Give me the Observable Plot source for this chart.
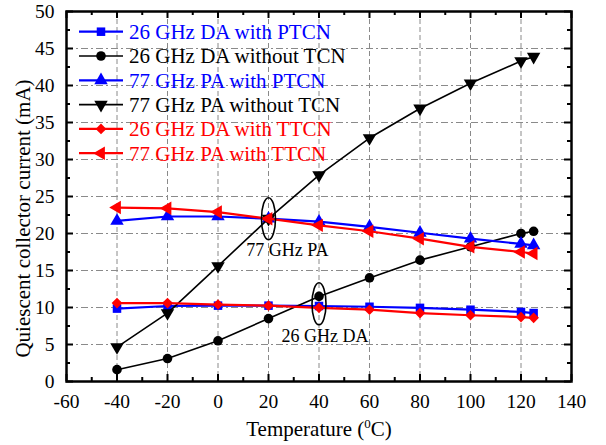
<!DOCTYPE html>
<html><head><meta charset="utf-8">
<script src="https://cdn.jsdelivr.net/npm/d3@7"></script>
<script src="https://cdn.jsdelivr.net/npm/@observablehq/plot@0.6"></script>
<style>body{margin:0;background:#fff} #chart{position:relative;width:606px;height:445px}</style>
</head><body><div id="chart"></div>
<script>
const temperatures = [-40, -20, 0, 20, 40, 60, 80, 100, 120, 125];
const da26WithPTCN   = [9.85, 10.2, 10.25, 10.25, 10.2, 10.1, 9.95, 9.7, 9.4, 9.25];
const da26WithoutTCN = [1.6, 3.1, 5.5, 8.5, 11.5, 14.0, 16.4, 18.2, 20.0, 20.3];
const pa77WithPTCN   = [21.7, 22.3, 22.3, 22.0, 21.6, 20.9, 20.1, 19.3, 18.6, 18.4];
const pa77WithoutTCN = [4.65, 9.25, 15.6, 22.0, 27.9, 32.9, 36.9, 40.3, 43.3, 43.9];
const da26WithTTCN   = [10.6, 10.6, 10.4, 10.25, 9.95, 9.7, 9.25, 8.95, 8.7, 8.6];
const pa77WithTTCN   = [23.5, 23.4, 22.9, 22.0, 21.1, 20.3, 19.3, 18.2, 17.5, 17.3];

const seriesNames = ["26 GHz DA with PTCN", "26 GHz DA without TCN", "77 GHz PA with PTCN",
                     "77 GHz PA without TCN", "26 GHz DA with TTCN", "77 GHz PA with TTCN"];
const seriesValues = [da26WithPTCN, da26WithoutTCN, pa77WithPTCN, pa77WithoutTCN, da26WithTTCN, pa77WithTTCN];
const seriesColors = ["#0000ff", "#000000", "#0000ff", "#000000", "#ff0000", "#ff0000"];
const seriesSymbols = ["square", "circle", "triangle", "triangle", "diamond2", "triangle"];
const seriesRotate = [0, 0, 0, 180, 0, -90];

const xMajorTicks = [-60, -40, -20, 0, 20, 40, 60, 80, 100, 120, 140];
const xMinorTicks = [-50, -30, -10, 10, 30, 50, 70, 90, 110, 130];
const yMajorTicks = [0, 5, 10, 15, 20, 25, 30, 35, 40, 45, 50];
const yMinorTicks = [2.5, 7.5, 12.5, 17.5, 22.5, 27.5, 32.5, 37.5, 42.5, 47.5];

const annotationLabels = ["77 GHz PA", "26 GHz DA"];
const ellipseX = [20, 40];
const ellipseY = [22.0, 10.5];
const labelX = [27.5, 42.4];
const labelY = [17.7, 6.1];

const xTitle = "Temperature (0C)";
const yTitle = "Quiescent collector current (mA)";

const table = [];
seriesNames.forEach((name, s) => {
  temperatures.forEach((t, i) => table.push({series: name, s, t, v: seriesValues[s][i]}));
});

function ellipseSymbol(rx, ry) {
  const k = 0.5523;
  return {draw(ctx) {
    ctx.moveTo(rx, 0);
    ctx.bezierCurveTo(rx, ry * k, rx * k, ry, 0, ry);
    ctx.bezierCurveTo(-rx * k, ry, -rx, ry * k, -rx, 0);
    ctx.bezierCurveTo(-rx, -ry * k, -rx * k, -ry, 0, -ry);
    ctx.bezierCurveTo(rx * k, -ry, rx, -ry * k, rx, 0);
    ctx.closePath();
  }};
}

const W = 606, H = 445, mL = 66, mR = 35, mT = 11, mB = 64;
const innerH = H - mT - mB;
const innerW = W - mL - mR;
const font = "'Liberation Serif', 'Times New Roman', serif";

const seriesMarks = [];
seriesNames.forEach((name, s) => {
  const rows = table.filter(d => d.s === s);
  const black = seriesColors[s] === "#000000";
  seriesMarks.push(Plot.line(rows, {x: "t", y: "v", stroke: seriesColors[s], strokeWidth: black ? 1.6 : 2.2}));
  seriesMarks.push(Plot.dot(rows, {x: "t", y: "v", symbol: seriesSymbols[s], fill: seriesColors[s],
    r: seriesSymbols[s] === "triangle" ? 5 : 4.8, rotate: seriesRotate[s]}));
});

const idx = annotationLabels.map((_, i) => i);

const chart = Plot.plot({
  width: W, height: H,
  marginLeft: mL, marginRight: mR, marginTop: mT, marginBottom: mB,
  style: {fontFamily: font, fontSize: "19.5px", background: "#fff", overflow: "visible", color: "#000"},
  x: {domain: [-60, 140]},
  y: {domain: [0, 50]},
  marks: [
    Plot.ruleX(xMajorTicks.slice(1, -1), {stroke: "#8a8a8a", strokeWidth: 1, strokeDasharray: "5,3"}),
    Plot.ruleY(yMajorTicks.slice(1, -1), {stroke: "#8a8a8a", strokeWidth: 1, strokeDasharray: "7,3,2,3"}),
    ...seriesMarks,
    Plot.dot(idx, {x: i => ellipseX[i], y: i => ellipseY[i], symbol: ellipseSymbol(7, 21), fill: "none", stroke: "#000", strokeWidth: 1.6}),
    Plot.text(idx, {x: i => labelX[i], y: i => labelY[i], text: i => annotationLabels[i], fontSize: 18, fill: "#000"}),
    // inward ticks
    Plot.ruleX(xMajorTicks, {insetTop: innerH - 7, stroke: "#000", strokeWidth: 2}),
    Plot.ruleX(xMajorTicks, {insetBottom: innerH - 7, stroke: "#000", strokeWidth: 2}),
    Plot.ruleX(xMinorTicks, {insetTop: innerH - 4, stroke: "#000", strokeWidth: 2}),
    Plot.ruleX(xMinorTicks, {insetBottom: innerH - 4, stroke: "#000", strokeWidth: 2}),
    Plot.ruleY(yMajorTicks, {insetRight: innerW - 7, stroke: "#000", strokeWidth: 2}),
    Plot.ruleY(yMajorTicks, {insetLeft: innerW - 7, stroke: "#000", strokeWidth: 2}),
    Plot.ruleY(yMinorTicks, {insetRight: innerW - 4, stroke: "#000", strokeWidth: 2}),
    Plot.ruleY(yMinorTicks, {insetLeft: innerW - 4, stroke: "#000", strokeWidth: 2}),
    Plot.frame({stroke: "#000", strokeWidth: 2.5}),
    Plot.axisX({ticks: xMajorTicks, tickSize: 0, tickPadding: 13, tickFormat: d => String(d), label: null, fontSize: 19.5}),
    Plot.axisY({ticks: yMajorTicks, tickSize: 0, tickPadding: 12, tickFormat: d => String(d), label: null, fontSize: 19.5}),
    Plot.text([xTitle], {text: d => d, frameAnchor: "bottom", lineAnchor: "middle", textAnchor: "middle", dy: 48, fontSize: 21, className: "xtitle"}),
    Plot.text([yTitle], {text: d => d, frameAnchor: "left", lineAnchor: "middle", textAnchor: "middle", rotate: -90, dx: -43, dy: 22, fontSize: 21})
  ]
});

document.getElementById("chart").appendChild(chart);

// superscript in x title
const xt = d3.select(chart).select(".xtitle text");
xt.text(null);
xt.append("tspan").text("Temperature (");
xt.append("tspan").attr("dy", -8).attr("font-size", 13).text("0");
xt.append("tspan").attr("dy", 8).text("C)");

// legend inside the plot area
const svg = d3.select(chart);
const lg = svg.append("g").attr("font-family", font).attr("font-size", 21).attr("text-anchor", "start");
const rowY0 = 31.7, rowStep = 24.3, lineX1 = 79, lineX2 = 123, markX = 101, textX = 129;
const symMap = {square: d3.symbolSquare, circle: d3.symbolCircle, triangle: d3.symbolTriangle, diamond2: d3.symbolDiamond2};
seriesNames.forEach((name, s) => {
  const y = rowY0 + s * rowStep;
  const g = lg.append("g");
  const black = seriesColors[s] === "#000000";
  g.append("line").attr("x1", lineX1).attr("x2", lineX2).attr("y1", y).attr("y2", y)
    .attr("stroke", seriesColors[s]).attr("stroke-width", black ? 1.6 : 2.2);
  const r = seriesSymbols[s] === "triangle" ? 5 : 4.8;
  g.append("path").attr("d", d3.symbol(symMap[seriesSymbols[s]], Math.PI * r * r)())
    .attr("transform", `translate(${markX},${y}) rotate(${seriesRotate[s]})`)
    .attr("fill", seriesColors[s]);
  g.append("text").attr("x", textX).attr("y", y).attr("dy", "0.35em").attr("text-anchor", "start")
    .attr("fill", seriesColors[s]).text(name);
});
</script>
</body></html>
